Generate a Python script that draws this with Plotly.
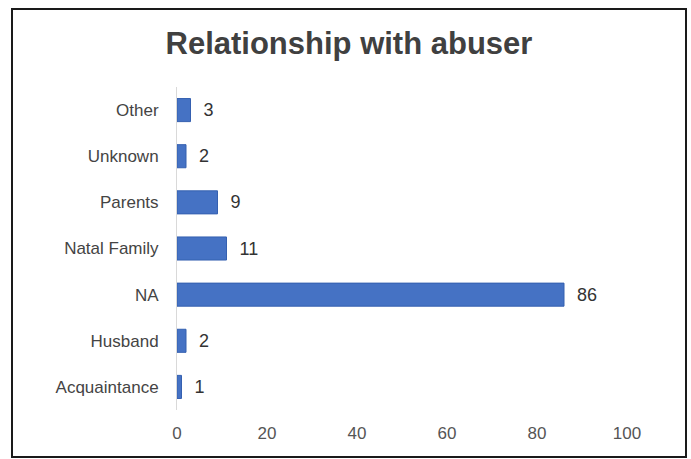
import plotly.graph_objects as go

# Relationship categories (bottom to top) and counts
categories = ["Acquaintance", "Husband", "NA", "Natal Family", "Parents", "Unknown", "Other"]
counts = [1, 2, 86, 11, 9, 2, 3]
x_ticks = [0, 20, 40, 60, 80, 100]

FONT = "Arial, Liberation Sans, sans-serif"

fig = go.Figure()
fig.add_trace(go.Bar(
    x=counts,
    y=categories,
    orientation="h",
    width=0.5,
    marker=dict(color="#4572c4", line=dict(color="#3560b0", width=1)),
    texttemplate="  %{x}",
    textposition="outside",
    textfont=dict(family=FONT, size=18, color="#333333"),
    cliponaxis=False,
    hoverinfo="skip",
))

fig.update_layout(
    width=691,
    height=459,
    margin=dict(l=177, r=64, t=87, b=49),
    paper_bgcolor="white",
    plot_bgcolor="white",
    showlegend=False,
    title=dict(
        text="<b>Relationship with abuser</b>",
        x=0.505, xanchor="center",
        y=0.905, yanchor="middle",
        font=dict(family=FONT, size=31, color="#404040"),
    ),
    font=dict(family=FONT, size=17, color="#444444"),
    xaxis=dict(
        range=[0, 100],
        tickvals=x_ticks,
        showgrid=False,
        zeroline=False,
        showline=False,
        ticks="",
        ticklabelstandoff=11,
        tickfont=dict(size=17, color="#555555"),
    ),
    yaxis=dict(
        categoryorder="array",
        categoryarray=categories,
        showgrid=False,
        zeroline=False,
        showline=True,
        linecolor="#d9d9d9",
        linewidth=1,
        ticks="",
        ticklabelstandoff=14,
        tickfont=dict(size=17, color="#444444"),
    ),
    shapes=[dict(
        type="rect", xref="paper", yref="paper",
        x0=-165 / 450, x1=509 / 450,
        y0=-47 / 323, y1=(323 + 78) / 323,
        line=dict(color="#1a1a1a", width=2),
        fillcolor="rgba(0,0,0,0)",
    )],
)

fig.write_html("out.html")
